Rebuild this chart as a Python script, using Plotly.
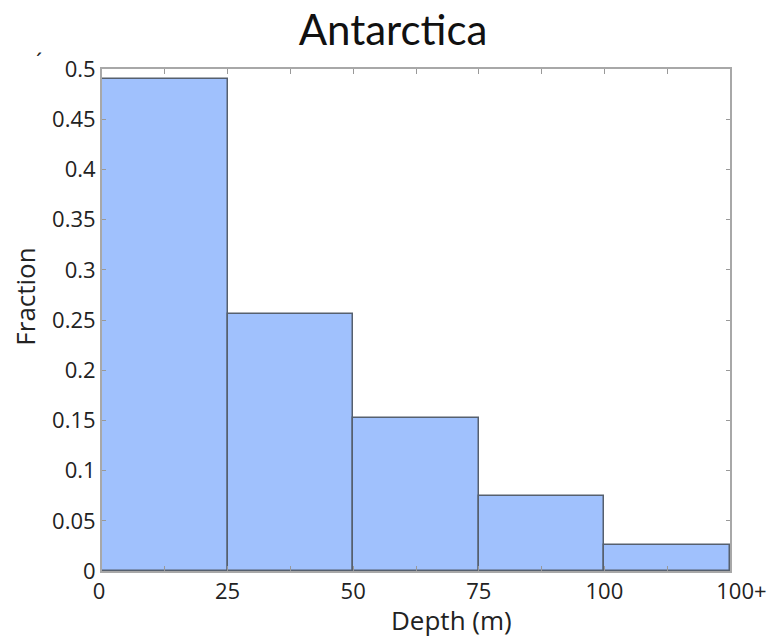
import plotly.graph_objects as go

bin_left = [0, 25, 50, 75, 100]
bin_width = [25, 25, 25, 25, 25]
fraction = [0.49, 0.256, 0.152, 0.075, 0.026]
x_tickvals = [0, 25, 50, 75, 100, 125]
x_ticktext = ["0\u00a0", "25", "50", "75", "100", "\u00a0\u00a0\u00a0\u00a0100+"]
y_tickvals = [0, 0.05, 0.1, 0.15, 0.2, 0.25, 0.3, 0.35, 0.4, 0.45, 0.5]
y_ticktext = ["0", "0.05", "0.1", "0.15", "0.2", "0.25", "0.3", "0.35", "0.4", "0.45", "0.5"]

centers = [l + w / 2 for l, w in zip(bin_left, bin_width)]

fig = go.Figure(go.Bar(
    x=centers, y=fraction, width=bin_width,
    marker=dict(color="#a0c1fd", line=dict(color="#56606e", width=1.5)),
))

tick_font = dict(family="Open Sans", size=22, color="#222")
fig.update_layout(
    width=769, height=628,
    margin=dict(l=94, r=47, t=61, b=65),
    plot_bgcolor="white", paper_bgcolor="white",
    showlegend=False, bargap=0,
    title=dict(text="Antarctica", x=385 / 769, xanchor="center", y=1 - 22 / 628, yanchor="middle",
               font=dict(family="Lato", size=42, color="#111")),
    xaxis=dict(range=[0, 125], tickvals=x_tickvals, ticktext=x_ticktext,
               ticks="inside", ticklen=5, tickcolor="#999", showline=True, linecolor="#a8a8a8",
               linewidth=2, mirror="ticks", showgrid=False, zeroline=False, tickfont=tick_font,
               automargin=False,
               minor=dict(tickvals=[12.5, 37.5, 62.5, 87.5, 112.5], ticks="inside", ticklen=5, tickcolor="#999")),
    yaxis=dict(range=[0, 0.5], tickvals=y_tickvals, ticktext=y_ticktext,
               ticks="inside", ticklen=4, tickcolor="#999", showline=True, linecolor="#a8a8a8",
               linewidth=2, mirror="ticks", showgrid=False, zeroline=False, tickfont=tick_font,
               automargin=False),
    annotations=[
        dict(text="Depth (m)", x=0.556, y=-0.098, xref="paper", yref="paper", showarrow=False,
             xanchor="center", yanchor="middle", font=dict(family="Open Sans", size=26, color="#222")),
        dict(text="Fraction", x=-0.123, y=0.546, xref="paper", yref="paper", showarrow=False,
             textangle=-90, xanchor="center", yanchor="middle", font=dict(family="Open Sans", size=26, color="#222")),
        dict(text="´", x=-0.1, y=1.018, xref="paper", yref="paper", showarrow=False,
             xanchor="center", yanchor="middle", font=dict(family="Open Sans", size=22, color="#222")),
    ],
)

fig.write_html("out.html")
